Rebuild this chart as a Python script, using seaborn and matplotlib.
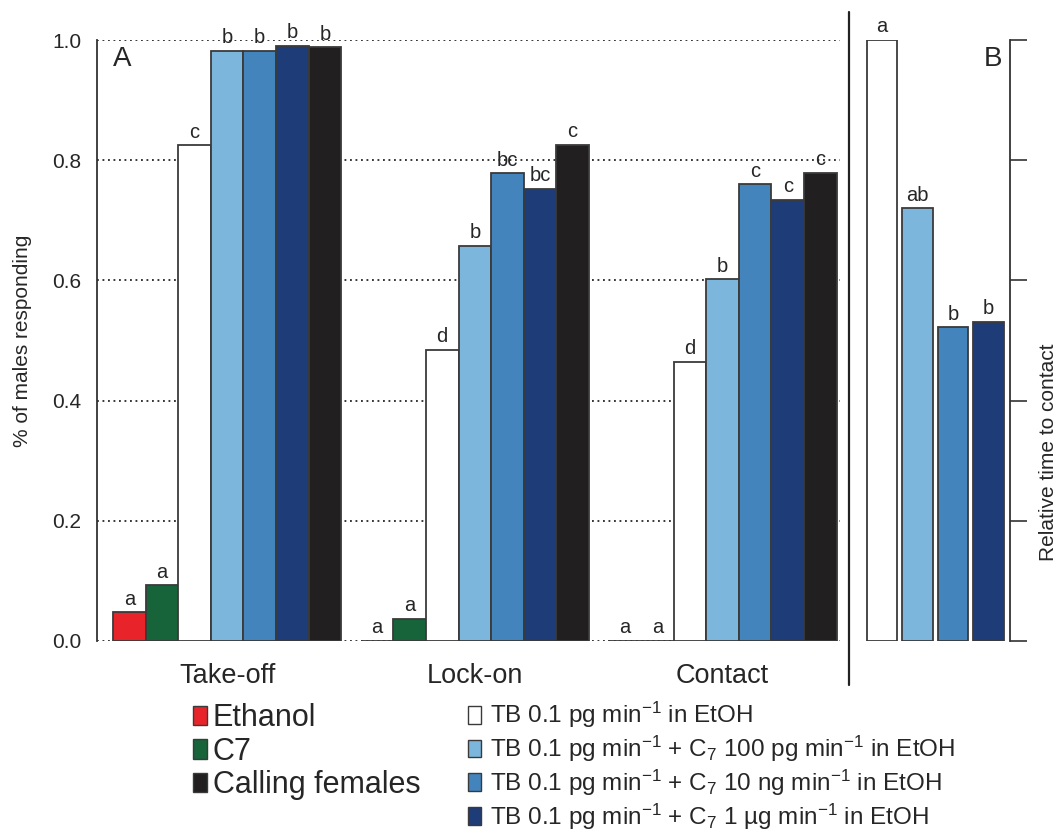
import numpy as np
import pandas as pd
import matplotlib
matplotlib.use("Agg")
import matplotlib.pyplot as plt
from matplotlib.patches import Patch
from matplotlib.lines import Line2D
import seaborn as sns

# Panel A data: proportion of males responding per stage and treatment
stages = ["Take-off", "Lock-on", "Contact"]
treatments = ["Ethanol", "C7", "TB", "TB+C7 100pg", "TB+C7 10ng", "TB+C7 1ug", "Calling females"]
ethanol = [0.048, 0.0, 0.0]
c7 = [0.093, 0.037, 0.0]
tb = [0.825, 0.485, 0.465]
tb_c7_100pg = [0.982, 0.658, 0.602]
tb_c7_10ng = [0.982, 0.778, 0.760]
tb_c7_1ug = [0.990, 0.752, 0.734]
calling = [0.988, 0.826, 0.779]
letters_a = {
    "Ethanol": ["a", "a", "a"],
    "C7": ["a", "a", "a"],
    "TB": ["c", "d", "d"],
    "TB+C7 100pg": ["b", "b", "b"],
    "TB+C7 10ng": ["b", "bc", "c"],
    "TB+C7 1ug": ["b", "bc", "c"],
    "Calling females": ["b", "c", "c"],
}

# Panel B data: relative time to contact
b_treat = ["TB", "TB+C7 100pg", "TB+C7 10ng", "TB+C7 1ug"]
b_vals = [1.0, 0.72, 0.522, 0.531]
b_letters = ["a", "ab", "b", "b"]

colors = {
    "Ethanol": "#e8242a",
    "C7": "#17633a",
    "TB": "#ffffff",
    "TB+C7 100pg": "#7db6dc",
    "TB+C7 10ng": "#4384bd",
    "TB+C7 1ug": "#1e3c77",
    "Calling females": "#211f20",
}

series = [ethanol, c7, tb, tb_c7_100pg, tb_c7_10ng, tb_c7_1ug, calling]
df = pd.DataFrame({
    "stage": np.repeat([stages], len(treatments), axis=0).ravel(),
    "treatment": np.repeat(treatments, len(stages)),
    "value": np.concatenate(series),
})
df_b = pd.DataFrame({"treatment": b_treat, "value": b_vals})

sns.set_style("white")
plt.rcParams["font.family"] = ["Liberation Sans", "DejaVu Sans"]
plt.rcParams["mathtext.fontset"] = "custom"
plt.rcParams["mathtext.rm"] = "Liberation Sans"
plt.rcParams["mathtext.it"] = "Liberation Sans:italic"

W, H = 1062, 833
fig = plt.figure(figsize=(W / 100, H / 100), dpi=100)
axA = fig.add_axes([97 / W, (H - 641) / H, (840 - 97) / W, 601 / H])
axB = fig.add_axes([849 / W, (H - 641) / H, (1010 - 849) / W, 601 / H])

edge = "#3a3a3a"

# Panel A
sns.barplot(data=df, x="stage", y="value", hue="treatment", hue_order=treatments,
            order=stages, palette=colors, width=0.921, errorbar=None, saturation=1,
            edgecolor=edge, linewidth=1.3, legend=False, ax=axA, zorder=3)
axA.set_xlim(-0.525, 2.474)
axA.set_ylim(0, 1)
axA.set_yticks(np.arange(0, 1.01, 0.2))
axA.set_yticklabels([f"{v:.1f}" for v in np.arange(0, 1.01, 0.2)], fontsize=15)
for yv in np.arange(0, 1.01, 0.2):
    axA.axhline(yv, color="black", linestyle=(0, (1.2, 2.4)), linewidth=1.1, zorder=1)
for side in ["top", "right", "bottom"]:
    axA.spines[side].set_visible(False)
axA.spines["left"].set_color("#333333")
axA.spines["left"].set_linewidth(1.3)
axA.tick_params(axis="y", direction="out", length=9.5, width=1.2, color="#333333", pad=2)
axA.tick_params(axis="x", length=0, pad=16, labelsize=19.5)
axA.set_xlabel("")
axA.set_ylabel("% of males responding", fontsize=15, labelpad=14)

for cont, tr in zip(axA.containers, treatments):
    for bar, lab in zip(cont, letters_a[tr]):
        axA.text(bar.get_x() + bar.get_width() / 2, bar.get_height() + 0.006, lab,
                 ha="center", va="bottom", fontsize=14.5, zorder=5)
axA.text(0.034, 0.968, "A", transform=axA.transAxes, ha="center", va="center", fontsize=20)

# Panel B
sns.barplot(data=df_b, x="treatment", y="value", hue="treatment", order=b_treat,
            palette=colors, width=0.864, errorbar=None, saturation=1, edgecolor=edge,
            linewidth=1.3, legend=False, ax=axB)
axB.set_xlim(-0.93, 3.606)
axB.set_ylim(0, 1)
axB.set_yticks(np.arange(0, 1.01, 0.2))
axB.yaxis.tick_right()
axB.tick_params(axis="y", direction="out", length=12, width=1.2, color="#333333",
                labelright=False, labelleft=False)
axB.tick_params(axis="x", length=0, labelbottom=False)
for side in ["top", "left", "bottom"]:
    axB.spines[side].set_visible(False)
axB.spines["right"].set_color("#333333")
axB.spines["right"].set_linewidth(1.3)
axB.set_xlabel("")
axB.set_ylabel("")
for bar, lab in zip(axB.patches, b_letters):
    axB.text(bar.get_x() + bar.get_width() / 2, bar.get_height() + 0.006, lab,
             ha="center", va="bottom", fontsize=14.5, clip_on=False)
axB.text(0.894, 0.968, "B", transform=axB.transAxes, ha="center", va="center", fontsize=20)
fig.text(1049 / W, (H - 452) / H, "Relative time to contact", rotation=90,
         ha="center", va="center", fontsize=15)

# separator between panels
fig.add_artist(Line2D([849 / W, 849 / W], [(H - 685) / H, (H - 12) / H],
                      color="#222222", linewidth=1.6))

# Legends
left_handles = [Patch(facecolor=colors[t], edgecolor=edge, linewidth=1.0)
                for t in ["Ethanol", "C7", "Calling females"]]
fig.legend(left_handles, ["Ethanol", "C7", "Calling females"],
           loc="upper left", bbox_to_anchor=(193 / W, (H - 703) / H), frameon=False,
           fontsize=22, handlelength=0.45, handleheight=0.6, handletextpad=0.2,
           labelspacing=0.12, borderpad=0, borderaxespad=0)

right_labels = [
    r"TB 0.1 pg min$^{-1}$ in EtOH",
    r"TB 0.1 pg min$^{-1}$ + C$_{7}$ 100 pg min$^{-1}$ in EtOH",
    r"TB 0.1 pg min$^{-1}$ + C$_{7}$ 10 ng min$^{-1}$ in EtOH",
    r"TB 0.1 pg min$^{-1}$ + C$_{7}$ 1 µg min$^{-1}$ in EtOH",
]
right_handles = [Patch(facecolor=colors[t], edgecolor=edge, linewidth=1.0) for t in b_treat]
fig.legend(right_handles, right_labels,
           loc="upper left", bbox_to_anchor=(468 / W, (H - 700) / H), frameon=False,
           fontsize=17.5, handlelength=0.55, handleheight=0.75, handletextpad=0.35,
           labelspacing=0.15, borderpad=0, borderaxespad=0)

plt.savefig("out.png", dpi=100)
